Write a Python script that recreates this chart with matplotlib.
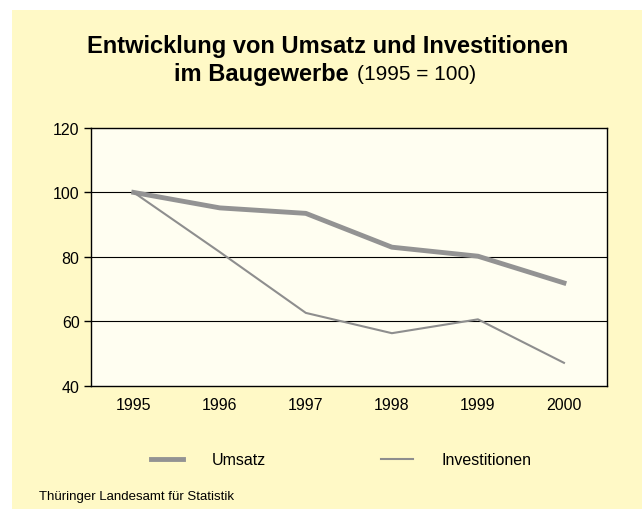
import matplotlib.pyplot as plt
from matplotlib.patches import Rectangle
from matplotlib.lines import Line2D

plt.rcParams['font.family'] = ['Liberation Sans', 'DejaVu Sans']

years = ['1995', '1996', '1997', '1998', '1999', '2000']
umsatz = [100, 95.2, 93.5, 83.0, 80.2, 71.9]
investitionen = [100, 81.5, 62.6, 56.3, 60.6, 47.1]
yticks = [40, 60, 80, 100, 120]

fig = plt.figure(figsize=(6.42, 5.10), dpi=100, facecolor='white')
# yellow panel behind everything
fig.patches.append(Rectangle((12 / 642, 0), 1, 1 - 11 / 510, transform=fig.transFigure,
                             facecolor='#fff9c6', edgecolor='none', zorder=-10))

ax = fig.add_axes([90.7 / 642, 1 - 386.7 / 510, (607 - 90.7) / 642, (386.7 - 129) / 510])
ax.set_facecolor('#fffef1')

x = range(len(years))
ax.plot(x, umsatz, color='#939393', lw=3.5, solid_joinstyle='round', zorder=3)
ax.plot(x, investitionen, color='#8e8e8e', lw=1.5, zorder=3)

ax.set_xlim(-0.5, len(years) - 0.5)
ax.set_ylim(40, 120)
ax.set_yticks(yticks)
ax.set_xticks(list(x))
ax.set_xticklabels(years)
for v in yticks[1:-1]:
    ax.axhline(v, color='black', lw=0.8, zorder=1)

for s in ax.spines.values():
    s.set_linewidth(1.0)
    s.set_color('black')
ax.tick_params(axis='y', direction='out', length=5, width=1, labelsize=11.5, pad=3)
ax.tick_params(axis='x', length=0, labelsize=11.5, pad=8)

fig.text(0.51, 1 - 47 / 510, 'Entwicklung von Umsatz und Investitionen',
         ha='center', va='center', fontsize=17, fontweight='bold')
fig.text(349 / 642, 1 - 75 / 510, 'im Baugewerbe', ha='right', va='center',
         fontsize=17, fontweight='bold')
fig.text(357 / 642, 1 - 75 / 510, '(1995 = 100)', ha='left', va='center', fontsize=15)

handles = [Line2D([], [], color='#939393', lw=3.5),
           Line2D([], [], color='#8e8e8e', lw=1.5)]
fig.legend(handles, ['Umsatz', 'Investitionen'], loc='center', ncol=2,
           bbox_to_anchor=(0.532, 1 - 461 / 510), frameon=False, fontsize=11.5,
           handlelength=2.0, handletextpad=1.8, columnspacing=7.2)

fig.text(39 / 642, 1 - 497 / 510, 'Thüringer Landesamt für Statistik',
         ha='left', va='center', fontsize=9.5)

fig.savefig('out.png', dpi=100, facecolor=fig.get_facecolor())
